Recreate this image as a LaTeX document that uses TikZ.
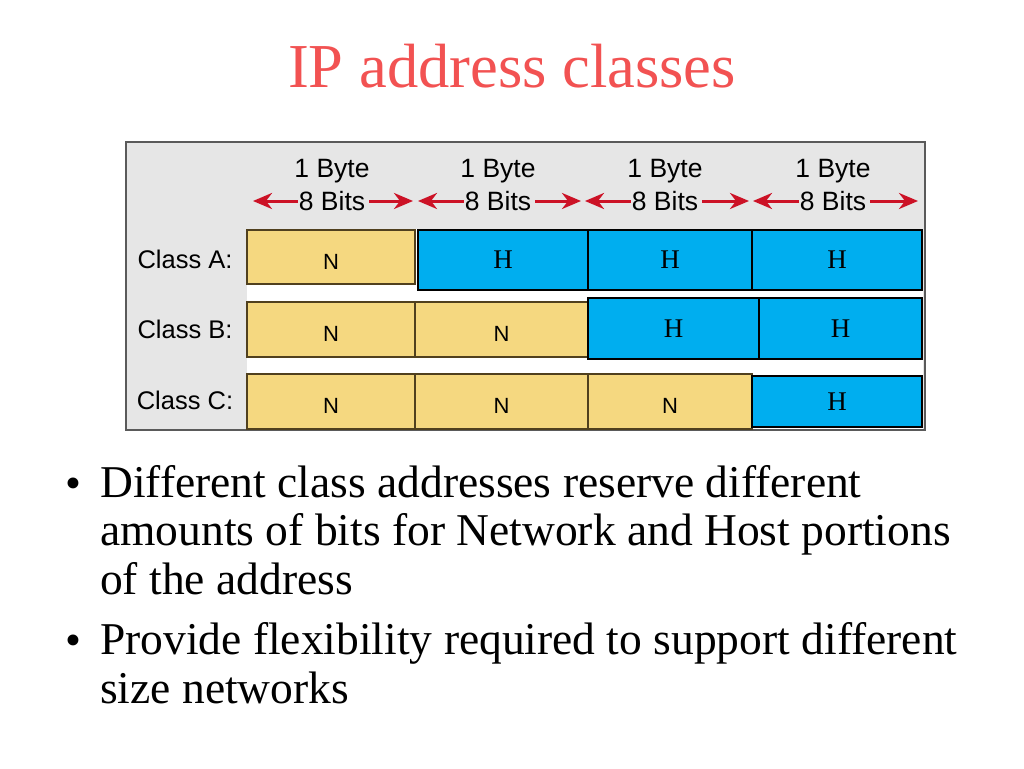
\documentclass[tikz,border=0pt]{standalone}
\usepackage{fontspec}
\setmainfont{Liberation Serif}
\setsansfont{Liberation Sans}
\usetikzlibrary{arrows.meta}

\definecolor{titlered}{RGB}{242,82,82}
\definecolor{arrred}{RGB}{204,18,38}
\definecolor{netyel}{RGB}{245,216,128}
\definecolor{netedge}{RGB}{80,64,30}
\definecolor{hostblue}{RGB}{0,174,239}
\definecolor{tabgray}{RGB}{230,230,230}
\definecolor{tabedge}{RGB}{90,90,90}

\begin{document}
\begin{tikzpicture}[
  x=1pt,y=-1pt,
  >={Stealth[length=19pt,width=16pt,inset=6pt]},
  ncell/.style={rectangle,draw=netedge,line width=1.2pt,fill=netyel,inner sep=0pt,
                text height=24pt,text depth=0pt,
                font=\sffamily\fontsize{22}{24}\selectfont},
  hcell/.style={rectangle,draw=black,line width=2.4pt,fill=hostblue,inner sep=0pt,
                font=\fontsize{27}{30}\selectfont},
  hdr/.style={inner sep=1pt,font=\sffamily\fontsize{26.5}{28}\selectfont},
  cls/.style={inner sep=0pt,font=\sffamily\fontsize{25.5}{28}\selectfont},
  brr/.style={->,line width=3pt,arrred},
  bul/.style={inner sep=0pt,align=left,anchor=base west,
              font=\fontsize{45.5}{48.5}\selectfont},
  dot/.style={inner sep=0pt,anchor=base,font=\fontsize{45.5}{48.5}\selectfont}
]
\useasboundingbox (0,0) rectangle (1024,768);
\fill[white] (0,0) rectangle (1024,768);

%% ================= title =================
\node[anchor=base,inner sep=0pt,text=titlered,font=\fontsize{62.5}{70}\selectfont]
  (title) at (512,87) {IP address classes};

%% ================= table frame =================
\draw[tabedge,line width=1.5pt,fill=tabgray] (126,142) rectangle (925,430);
\fill[white] (247,229) rectangle (923,429);

\foreach \i/\cx/\l/\r in {1/332/253/413, 2/498/418/581, 3/665/585/749, 4/833/753/918} {
  \node[hdr] (byte\i) at (\cx,171) {1 Byte};
  \node[hdr] (bits\i) at (\cx,201) {8 Bits};
  \coordinate (lt\i) at (\l,201);
  \coordinate (rt\i) at (\r,201);
  \draw[brr] (bits\i) -- (lt\i);
  \draw[brr,shorten <=3pt] (bits\i) -- (rt\i);
}

\node[cls] (clsA) at (185,259) {Class A:};
\node[cls] (clsB) at (185,329) {Class B:};
\node[cls] (clsC) at (185,400) {Class C:};

%% ================= Class A =================
\node[ncell,minimum width=168pt,minimum height=54pt] (a1) at (331,257)   {N};
\node[hcell,minimum width=170pt,minimum height=60pt] (a2) at (503,260)   {H};
\node[hcell,minimum width=164pt,minimum height=60pt] (a3) at (670,260)   {H};
\node[hcell,minimum width=170pt,minimum height=60pt] (a4) at (837,260)   {H};

%% ================= Class B =================
\node[ncell,minimum width=168pt,minimum height=55pt] (b1) at (331,329.5)   {N};
\node[ncell,minimum width=173pt,minimum height=55pt] (b2) at (501.5,329.5) {N};
\node[hcell,minimum width=171pt,minimum height=61pt] (b3) at (673.5,328.5) {H};
\node[hcell,minimum width=163pt,minimum height=61pt] (b4) at (840.5,328.5) {H};

%% ================= Class C =================
\node[ncell,minimum width=168pt,minimum height=55pt] (c1) at (331,401.5)   {N};
\node[ncell,minimum width=173pt,minimum height=55pt] (c2) at (501.5,401.5) {N};
\node[ncell,minimum width=164pt,minimum height=55pt] (c3) at (670,401.5)   {N};
\node[hcell,minimum width=170pt,minimum height=51pt] (c4) at (837,401.5)   {H};

%% ================= bullets =================
% multi-line nodes sit on the baseline of their last line
\node[dot] (dot1) at (73,498) {\textbullet};
\node[bul] (pt1)  at (100,594)
  {Different class addresses reserve different\\
   amounts of bits for Network and Host portions\\
   of the address};
\node[dot] (dot2) at (73,655) {\textbullet};
\node[bul] (pt2)  at (100,703)
  {Provide flexibility required to support different\\
   size networks};

\end{tikzpicture}
\end{document}
